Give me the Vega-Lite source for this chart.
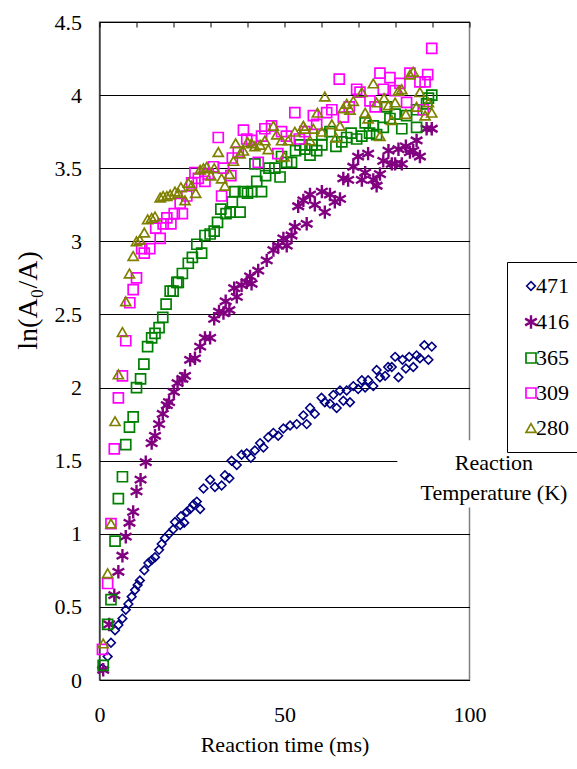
{
  "$schema": "https://vega.github.io/schema/vega-lite/v6.json",
  "width": 370,
  "height": 658,
  "autosize": {"type": "none"},
  "padding": {"left": 99.5, "top": 22, "right": 107.5, "bottom": 89},
  "background": "white",
  "config": {"font": "Liberation Serif", "view": {"stroke": "#808080", "strokeWidth": 1.5}},
  "resolve": {"axis": {"x": "independent"}},
  "layer": [
    {
      "data": {"values": [
        {"s":"471","t":0.8,"v":0.08},{"s":"471","t":2.2,"v":0.16},{"s":"471","t":3.1,"v":0.255},{"s":"471","t":4.2,"v":0.34},{"s":"471","t":5.1,"v":0.376},{"s":"471","t":6.2,"v":0.42},{"s":"471","t":7.1,"v":0.48},{"s":"471","t":7.8,"v":0.52},{"s":"471","t":8.7,"v":0.57},{"s":"471","t":9.6,"v":0.615},{"s":"471","t":10.3,"v":0.65},{"s":"471","t":10.9,"v":0.68},{"s":"471","t":12.1,"v":0.75},{"s":"471","t":13.2,"v":0.8},{"s":"471","t":14.1,"v":0.82},{"s":"471","t":15,"v":0.84},{"s":"471","t":16.1,"v":0.89},{"s":"471","t":16.8,"v":0.93},{"s":"471","t":17.7,"v":0.97},{"s":"471","t":18.8,"v":1.0},{"s":"471","t":19.9,"v":1.03},{"s":"471","t":20.4,"v":1.08},{"s":"471","t":21.8,"v":1.06},{"s":"471","t":22.9,"v":1.075},{"s":"471","t":22,"v":1.12},{"s":"471","t":23.6,"v":1.15},{"s":"471","t":24.5,"v":1.17},{"s":"471","t":25.4,"v":1.2},{"s":"471","t":27.2,"v":1.17},{"s":"471","t":26.3,"v":1.22},{"s":"471","t":28.1,"v":1.31},{"s":"471","t":29.9,"v":1.37},{"s":"471","t":31.2,"v":1.32},{"s":"471","t":33,"v":1.33},{"s":"471","t":33.9,"v":1.4},{"s":"471","t":35.1,"v":1.38},{"s":"471","t":35.7,"v":1.5},{"s":"471","t":37.1,"v":1.47},{"s":"471","t":38.4,"v":1.54},{"s":"471","t":39.8,"v":1.55},{"s":"471","t":40.9,"v":1.52},{"s":"471","t":42,"v":1.57},{"s":"471","t":43.4,"v":1.62},{"s":"471","t":44.3,"v":1.59},{"s":"471","t":45.6,"v":1.66},{"s":"471","t":47,"v":1.69},{"s":"471","t":48.3,"v":1.67},{"s":"471","t":49.7,"v":1.72},{"s":"471","t":51.5,"v":1.74},{"s":"471","t":53.3,"v":1.75},{"s":"471","t":55.1,"v":1.81},{"s":"471","t":56,"v":1.75},{"s":"471","t":56.9,"v":1.86},{"s":"471","t":58.2,"v":1.82},{"s":"471","t":60,"v":1.93},{"s":"471","t":60.9,"v":1.9},{"s":"471","t":62.3,"v":1.89},{"s":"471","t":63.2,"v":1.95},{"s":"471","t":64.1,"v":1.86},{"s":"471","t":65,"v":1.98},{"s":"471","t":65.9,"v":1.91},{"s":"471","t":66.8,"v":1.98},{"s":"471","t":67.7,"v":1.9},{"s":"471","t":68.6,"v":2.01},{"s":"471","t":69.9,"v":1.99},{"s":"471","t":70.9,"v":2.05},{"s":"471","t":71.8,"v":2.0},{"s":"471","t":72.6,"v":2.05},{"s":"471","t":74,"v":2.01},{"s":"471","t":74.9,"v":2.12},{"s":"471","t":75.8,"v":2.07},{"s":"471","t":77.2,"v":2.08},{"s":"471","t":78,"v":2.14},{"s":"471","t":79,"v":2.14},{"s":"471","t":79.9,"v":2.21},{"s":"471","t":80.8,"v":2.07},{"s":"471","t":81.9,"v":2.19},{"s":"471","t":82.8,"v":2.13},{"s":"471","t":83.7,"v":2.21},{"s":"471","t":84.8,"v":2.14},{"s":"471","t":85.7,"v":2.22},{"s":"471","t":86.6,"v":2.2},{"s":"471","t":87.8,"v":2.29},{"s":"471","t":88.9,"v":2.19},{"s":"471","t":89.8,"v":2.28},
        {"s":"416","t":1,"v":0.07},{"s":"416","t":2.6,"v":0.38},{"s":"416","t":4,"v":0.58},{"s":"416","t":5.1,"v":0.74},{"s":"416","t":6.2,"v":0.85},{"s":"416","t":7.1,"v":0.98},{"s":"416","t":8.1,"v":1.075},{"s":"416","t":9.1,"v":1.15},{"s":"416","t":10,"v":1.29},{"s":"416","t":11.1,"v":1.37},{"s":"416","t":12.5,"v":1.49},{"s":"416","t":14.1,"v":1.62},{"s":"416","t":15,"v":1.67},{"s":"416","t":16.1,"v":1.75},{"s":"416","t":17.1,"v":1.82},{"s":"416","t":18.2,"v":1.88},{"s":"416","t":18.8,"v":1.9},{"s":"416","t":20.1,"v":1.97},{"s":"416","t":21.1,"v":2.03},{"s":"416","t":22.4,"v":2.06},{"s":"416","t":23.1,"v":2.08},{"s":"416","t":24.5,"v":2.19},{"s":"416","t":25.8,"v":2.2},{"s":"416","t":27.2,"v":2.28},{"s":"416","t":28.5,"v":2.34},{"s":"416","t":29.9,"v":2.34},{"s":"416","t":31,"v":2.47},{"s":"416","t":32.3,"v":2.52},{"s":"416","t":33.5,"v":2.51},{"s":"416","t":34.1,"v":2.59},{"s":"416","t":35.1,"v":2.53},{"s":"416","t":36.4,"v":2.68},{"s":"416","t":37.1,"v":2.62},{"s":"416","t":38.4,"v":2.7},{"s":"416","t":39.8,"v":2.72},{"s":"416","t":40.7,"v":2.76},{"s":"416","t":41.1,"v":2.71},{"s":"416","t":42.9,"v":2.8},{"s":"416","t":45.2,"v":2.87},{"s":"416","t":47,"v":2.94},{"s":"416","t":48.3,"v":2.97},{"s":"416","t":49.7,"v":3.02},{"s":"416","t":50.6,"v":2.97},{"s":"416","t":51.9,"v":3.04},{"s":"416","t":52.8,"v":3.1},{"s":"416","t":56,"v":3.12},{"s":"416","t":53.7,"v":3.24},{"s":"416","t":55.1,"v":3.28},{"s":"416","t":56.9,"v":3.32},{"s":"416","t":58.2,"v":3.25},{"s":"416","t":60.1,"v":3.34},{"s":"416","t":60.9,"v":3.2},{"s":"416","t":62.3,"v":3.32},{"s":"416","t":63.6,"v":3.27},{"s":"416","t":65,"v":3.29},{"s":"416","t":65.9,"v":3.43},{"s":"416","t":67.2,"v":3.42},{"s":"416","t":68.6,"v":3.51},{"s":"416","t":69.9,"v":3.58},{"s":"416","t":70.9,"v":3.42},{"s":"416","t":71.8,"v":3.47},{"s":"416","t":72.6,"v":3.6},{"s":"416","t":74,"v":3.42},{"s":"416","t":74.9,"v":3.38},{"s":"416","t":75.8,"v":3.46},{"s":"416","t":76.7,"v":3.55},{"s":"416","t":78.1,"v":3.62},{"s":"416","t":79,"v":3.53},{"s":"416","t":79.9,"v":3.53},{"s":"416","t":80.8,"v":3.63},{"s":"416","t":81.7,"v":3.53},{"s":"416","t":82.8,"v":3.65},{"s":"416","t":83.9,"v":3.61},{"s":"416","t":84.8,"v":3.62},{"s":"416","t":85.7,"v":3.69},{"s":"416","t":86.6,"v":3.58},{"s":"416","t":88.4,"v":3.77},{"s":"416","t":89.8,"v":3.77},
        {"s":"365","t":1,"v":0.1},{"s":"365","t":2.2,"v":0.38},{"s":"365","t":3.1,"v":0.55},{"s":"365","t":4.2,"v":0.95},{"s":"365","t":5.1,"v":1.24},{"s":"365","t":6.2,"v":1.39},{"s":"365","t":7.1,"v":1.61},{"s":"365","t":8.1,"v":1.73},{"s":"365","t":9.1,"v":1.8},{"s":"365","t":10,"v":2.0},{"s":"365","t":11.1,"v":2.06},{"s":"365","t":12,"v":2.16},{"s":"365","t":13,"v":2.28},{"s":"365","t":14.1,"v":2.34},{"s":"365","t":15,"v":2.37},{"s":"365","t":16.1,"v":2.41},{"s":"365","t":17.1,"v":2.48},{"s":"365","t":18,"v":2.57},{"s":"365","t":19.1,"v":2.66},{"s":"365","t":19.9,"v":2.66},{"s":"365","t":20.9,"v":2.72},{"s":"365","t":21.3,"v":2.72},{"s":"365","t":22.4,"v":2.78},{"s":"365","t":24,"v":2.85},{"s":"365","t":25.1,"v":2.89},{"s":"365","t":26.3,"v":2.98},{"s":"365","t":27.6,"v":2.92},{"s":"365","t":28.5,"v":3.04},{"s":"365","t":29.9,"v":3.05},{"s":"365","t":31,"v":3.07},{"s":"365","t":31.9,"v":3.13},{"s":"365","t":32.8,"v":3.22},{"s":"365","t":34.2,"v":3.19},{"s":"365","t":35.3,"v":3.2},{"s":"365","t":35.9,"v":3.27},{"s":"365","t":36.6,"v":3.34},{"s":"365","t":38,"v":3.2},{"s":"365","t":38.9,"v":3.34},{"s":"365","t":40,"v":3.33},{"s":"365","t":41.1,"v":3.34},{"s":"365","t":42.5,"v":3.41},{"s":"365","t":43.8,"v":3.34},{"s":"365","t":42,"v":3.53},{"s":"365","t":44.9,"v":3.45},{"s":"365","t":45.8,"v":3.5},{"s":"365","t":47.4,"v":3.5},{"s":"365","t":48.8,"v":3.44},{"s":"365","t":49.2,"v":3.58},{"s":"365","t":50.6,"v":3.54},{"s":"365","t":51.9,"v":3.54},{"s":"365","t":53,"v":3.62},{"s":"365","t":54.2,"v":3.66},{"s":"365","t":55.5,"v":3.63},{"s":"365","t":56.9,"v":3.59},{"s":"365","t":57.4,"v":3.66},{"s":"365","t":58.7,"v":3.62},{"s":"365","t":60.1,"v":3.66},{"s":"365","t":60.1,"v":3.73},{"s":"365","t":62.3,"v":3.75},{"s":"365","t":63.9,"v":3.65},{"s":"365","t":65.5,"v":3.68},{"s":"365","t":66.8,"v":3.71},{"s":"365","t":68,"v":3.74},{"s":"365","t":69.5,"v":3.7},{"s":"365","t":70.9,"v":3.72},{"s":"365","t":71.8,"v":3.81},{"s":"365","t":73,"v":3.74},{"s":"365","t":74,"v":3.79},{"s":"365","t":74.9,"v":3.73},{"s":"365","t":76.7,"v":3.78},{"s":"365","t":77.6,"v":3.92},{"s":"365","t":78.5,"v":3.84},{"s":"365","t":79.9,"v":3.87},{"s":"365","t":81.7,"v":3.77},{"s":"365","t":83,"v":3.86},{"s":"365","t":85.7,"v":3.78},{"s":"365","t":85.7,"v":3.9},{"s":"365","t":88.4,"v":3.94},{"s":"365","t":88.9,"v":3.98},{"s":"365","t":89.8,"v":4.0},
        {"s":"309","t":0.8,"v":0.21},{"s":"309","t":2.2,"v":0.66},{"s":"309","t":3.1,"v":1.07},{"s":"309","t":4,"v":1.58},{"s":"309","t":5.1,"v":1.93},{"s":"309","t":6.2,"v":2.08},{"s":"309","t":7.1,"v":2.32},{"s":"309","t":8.2,"v":2.58},{"s":"309","t":9.1,"v":2.67},{"s":"309","t":10,"v":2.75},{"s":"309","t":11.4,"v":2.95},{"s":"309","t":12.1,"v":2.92},{"s":"309","t":13.6,"v":2.95},{"s":"309","t":15.2,"v":3.09},{"s":"309","t":16.4,"v":3.02},{"s":"309","t":17.2,"v":3.12},{"s":"309","t":18.2,"v":3.16},{"s":"309","t":19.3,"v":3.12},{"s":"309","t":20.2,"v":3.19},{"s":"309","t":21.8,"v":3.26},{"s":"309","t":22.4,"v":3.19},{"s":"309","t":23.6,"v":3.31},{"s":"309","t":24.9,"v":3.4},{"s":"309","t":25.8,"v":3.47},{"s":"309","t":26.7,"v":3.43},{"s":"309","t":28.5,"v":3.41},{"s":"309","t":29.4,"v":3.46},{"s":"309","t":30.8,"v":3.51},{"s":"309","t":32.1,"v":3.71},{"s":"309","t":33,"v":3.31},{"s":"309","t":33.5,"v":3.5},{"s":"309","t":35.5,"v":3.45},{"s":"309","t":35.9,"v":3.57},{"s":"309","t":37.5,"v":3.61},{"s":"309","t":38.9,"v":3.76},{"s":"309","t":39.8,"v":3.7},{"s":"309","t":41.1,"v":3.69},{"s":"309","t":42.9,"v":3.54},{"s":"309","t":43.8,"v":3.72},{"s":"309","t":44.7,"v":3.77},{"s":"309","t":46.5,"v":3.79},{"s":"309","t":48.2,"v":3.6},{"s":"309","t":49.2,"v":3.75},{"s":"309","t":50.5,"v":3.72},{"s":"309","t":52.8,"v":3.88},{"s":"309","t":54,"v":3.7},{"s":"309","t":55.5,"v":3.75},{"s":"309","t":57.8,"v":3.86},{"s":"309","t":58.7,"v":3.8},{"s":"309","t":61.4,"v":3.88},{"s":"309","t":62.8,"v":3.9},{"s":"309","t":64.8,"v":4.11},{"s":"309","t":65.9,"v":3.85},{"s":"309","t":67.5,"v":3.92},{"s":"309","t":69.5,"v":4.04},{"s":"309","t":70.4,"v":4.02},{"s":"309","t":73.1,"v":3.96},{"s":"309","t":74.5,"v":3.92},{"s":"309","t":75.8,"v":4.15},{"s":"309","t":76.7,"v":4.04},{"s":"309","t":78.5,"v":4.12},{"s":"309","t":79.9,"v":4.03},{"s":"309","t":81.2,"v":4.08},{"s":"309","t":83,"v":3.95},{"s":"309","t":83.9,"v":4.15},{"s":"309","t":86.6,"v":4.09},{"s":"309","t":87.5,"v":3.9},{"s":"309","t":88,"v":4.09},{"s":"309","t":88.7,"v":4.14},{"s":"309","t":89.8,"v":4.32},
        {"s":"280","t":1,"v":0.25},{"s":"280","t":2.2,"v":0.73},{"s":"280","t":3.1,"v":1.07},{"s":"280","t":4.2,"v":1.77},{"s":"280","t":5.1,"v":2.09},{"s":"280","t":6.2,"v":2.38},{"s":"280","t":7.1,"v":2.59},{"s":"280","t":8.1,"v":2.78},{"s":"280","t":9.1,"v":2.9},{"s":"280","t":10,"v":3.0},{"s":"280","t":10.9,"v":3.01},{"s":"280","t":12.1,"v":3.06},{"s":"280","t":13,"v":3.15},{"s":"280","t":14.1,"v":3.16},{"s":"280","t":15,"v":3.17},{"s":"280","t":16.4,"v":3.3},{"s":"280","t":17.2,"v":3.31},{"s":"280","t":18.2,"v":3.31},{"s":"280","t":19.1,"v":3.32},{"s":"280","t":20.4,"v":3.34},{"s":"280","t":21.3,"v":3.33},{"s":"280","t":22,"v":3.37},{"s":"280","t":23.1,"v":3.28},{"s":"280","t":24,"v":3.4},{"s":"280","t":24.9,"v":3.38},{"s":"280","t":26,"v":3.33},{"s":"280","t":27.2,"v":3.49},{"s":"280","t":28.1,"v":3.5},{"s":"280","t":29,"v":3.51},{"s":"280","t":30.1,"v":3.45},{"s":"280","t":31,"v":3.5},{"s":"280","t":32.1,"v":3.61},{"s":"280","t":33,"v":3.43},{"s":"280","t":33.9,"v":3.38},{"s":"280","t":35.1,"v":3.46},{"s":"280","t":36.2,"v":3.55},{"s":"280","t":36.8,"v":3.67},{"s":"280","t":38,"v":3.6},{"s":"280","t":38.9,"v":3.62},{"s":"280","t":40,"v":3.68},{"s":"280","t":41.1,"v":3.67},{"s":"280","t":42,"v":3.65},{"s":"280","t":43.4,"v":3.66},{"s":"280","t":44.7,"v":3.69},{"s":"280","t":45.6,"v":3.63},{"s":"280","t":47,"v":3.79},{"s":"280","t":47.9,"v":3.73},{"s":"280","t":49.2,"v":3.69},{"s":"280","t":49.9,"v":3.58},{"s":"280","t":51,"v":3.69},{"s":"280","t":52.8,"v":3.75},{"s":"280","t":55.1,"v":3.79},{"s":"280","t":55.5,"v":3.77},{"s":"280","t":56.9,"v":3.69},{"s":"280","t":57.8,"v":3.77},{"s":"280","t":58.9,"v":3.88},{"s":"280","t":60.1,"v":3.75},{"s":"280","t":60.9,"v":3.99},{"s":"280","t":62.8,"v":3.8},{"s":"280","t":63.9,"v":3.71},{"s":"280","t":65,"v":3.79},{"s":"280","t":65.9,"v":3.91},{"s":"280","t":66.8,"v":3.94},{"s":"280","t":67.7,"v":3.9},{"s":"280","t":68.6,"v":3.96},{"s":"280","t":70.9,"v":4.02},{"s":"280","t":71.8,"v":3.88},{"s":"280","t":72.6,"v":3.84},{"s":"280","t":74,"v":4.08},{"s":"280","t":74.9,"v":3.95},{"s":"280","t":75.8,"v":3.72},{"s":"280","t":76.9,"v":3.98},{"s":"280","t":78.1,"v":3.93},{"s":"280","t":79,"v":3.83},{"s":"280","t":79.9,"v":3.95},{"s":"280","t":80.8,"v":4.03},{"s":"280","t":81.7,"v":4.04},{"s":"280","t":82.8,"v":3.87},{"s":"280","t":83.9,"v":4.14},{"s":"280","t":84.8,"v":4.16},{"s":"280","t":85.7,"v":3.92},{"s":"280","t":86.6,"v":4.02},{"s":"280","t":88,"v":3.86},{"s":"280","t":88.9,"v":3.95},{"s":"280","t":89.8,"v":3.88}
      ]},
      "mark": {"type": "point", "filled": false, "opacity": 1},
      "encoding": {
        "x": {"field": "t", "type": "quantitative",
          "scale": {"domain": [0, 100], "nice": false},
          "axis": {"title": "Reaction time (ms)", "values": [0, 50, 100], "format": "d",
            "labelOverlap": false, "labelFlush": false, "ticks": false,
            "grid": false, "domainColor": "black",
            "labelFont": "Liberation Serif", "labelFontSize": 22, "labelColor": "black", "labelPadding": 24,
            "titleFont": "Liberation Serif", "titleFontSize": 22, "titleFontWeight": "normal", "titleColor": "black", "titlePadding": 9}},
        "y": {"field": "v", "type": "quantitative",
          "scale": {"domain": [0, 4.5], "nice": false},
          "axis": {"title": "ln(A₀/A)", "values": [0,0.5,1,1.5,2,2.5,3,3.5,4,4.5], "format": "~g", "labelOverlap": false,
            "grid": true, "gridColor": "black", "gridWidth": 1, "ticks": false, "domainColor": "black",
            "labelFont": "Liberation Serif", "labelFontSize": 22, "labelColor": "black", "labelPadding": 18,
            "titleFont": "Liberation Serif", "titleFontSize": 28, "titleFontWeight": "normal", "titleColor": "black", "titlePadding": 12, "titleY": 278}},
        "color": {"field": "s", "type": "nominal",
          "scale": {"domain": ["471","416","365","309","280"], "range": ["#000080","#800080","#008000","#ff00ff","#808000"]},
          "legend": {"orient": "none", "legendX": 407.5, "legendY": 240, "title": null, "strokeColor": "black", "fillColor": "white",
            "padding": 13, "labelFont": "Liberation Serif", "labelFontSize": 22, "labelColor": "black", "symbolStrokeWidth": 1.8, "symbolSize": 60, "rowPadding": 13, "labelOffset": -6}},
        "shape": {"field": "s", "type": "nominal",
          "scale": {"domain": ["471","416","365","309","280"], "range": ["diamond","M0,-1L0,1M-0.87,-0.5L0.87,0.5M-0.87,0.5L0.87,-0.5","square","square","triangle-up"]},
          "legend": {"orient": "none", "legendX": 407.5, "legendY": 240, "title": null, "strokeColor": "black", "fillColor": "white",
            "padding": 13, "labelFont": "Liberation Serif", "labelFontSize": 22, "labelColor": "black", "symbolStrokeWidth": 1.8, "symbolSize": 60, "rowPadding": 13, "labelOffset": -6}},
        "size": {"field": "s", "type": "nominal",
          "scale": {"type": "ordinal", "domain": ["471","416","365","309","280"], "range": [75,180,100,100,100]}, "legend": null},
        "strokeWidth": {"field": "s", "type": "nominal",
          "scale": {"type": "ordinal", "domain": ["471","416","365","309","280"], "range": [1.6,2.4,1.7,1.7,1.7]}, "legend": null}
      }
    },
    {
      "data": {"values": [{"t": 80.5, "t2": 130, "v": 1.18, "v2": 1.64}]},
      "mark": {"type": "rect", "fill": "white", "stroke": null},
      "encoding": {
        "x": {"field": "t", "type": "quantitative",
          "axis": {"title": null, "values": [0,10,20,30,40,50,60,70,80,90,100], "labels": false, "domain": false, "grid": false,
            "ticks": true, "tickSize": -5, "tickColor": "black", "tickWidth": 1}},
        "x2": {"field": "t2"},
        "y": {"field": "v", "type": "quantitative"},
        "y2": {"field": "v2"}
      }
    },
    {
      "data": {"values": [{"label": "Reaction", "t": 106.6, "v": 1.483}, {"label": "Temperature (K)", "t": 106.6, "v": 1.278}]},
      "mark": {"type": "text", "font": "Liberation Serif", "fontSize": 22, "align": "center", "baseline": "middle", "color": "black"},
      "encoding": {
        "x": {"field": "t", "type": "quantitative", "axis": null},
        "y": {"field": "v", "type": "quantitative"},
        "text": {"field": "label"}
      }
    }
  ]
}
